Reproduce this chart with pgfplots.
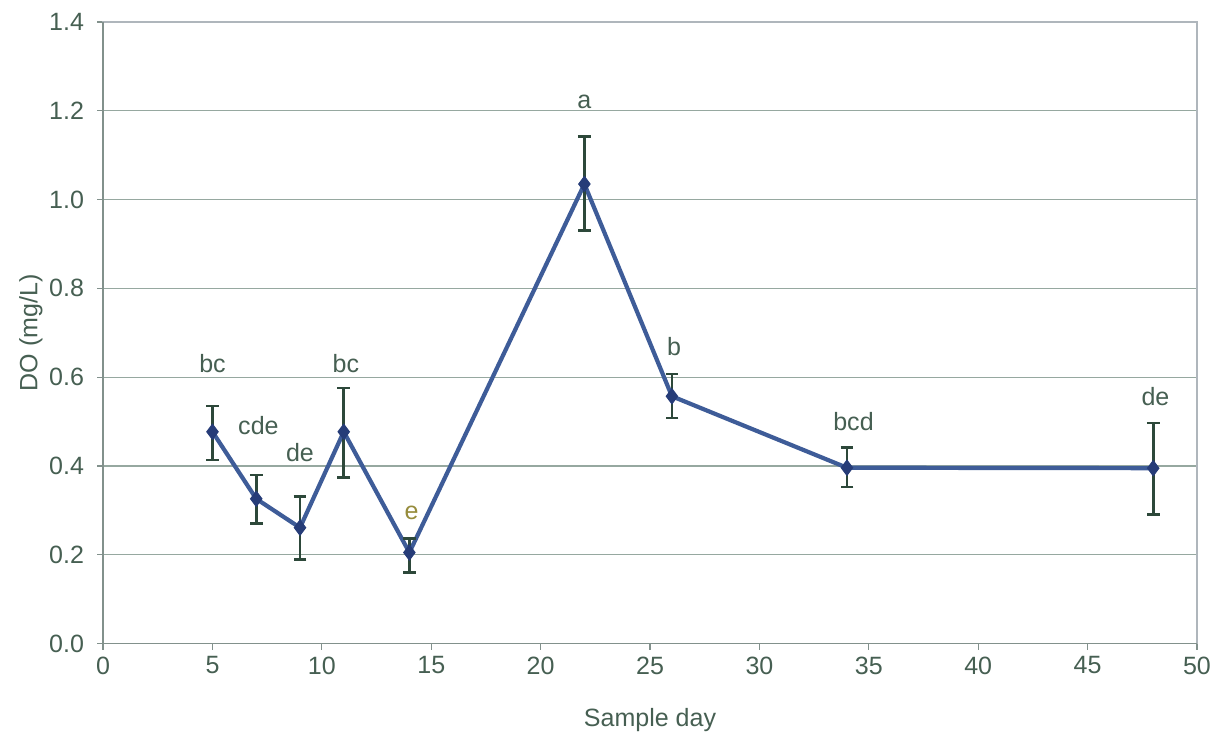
\documentclass[border=0pt]{standalone}
\usepackage{pgfplots}
\pgfplotsset{compat=1.18}
\usepackage{fontspec}
\setmainfont{Liberation Sans}
\definecolor{txtc}{RGB}{70,95,82}
\definecolor{gridc}{RGB}{150,168,160}
\definecolor{boxc}{RGB}{175,182,188}
\definecolor{axc}{RGB}{130,145,140}
\definecolor{linec}{RGB}{62,92,152}
\definecolor{markc}{RGB}{38,60,120}
\definecolor{errc}{RGB}{45,72,58}
\begin{document}
\begin{tikzpicture}
\begin{axis}[
  scale only axis,
  width=546.5pt, height=310.5pt,
  xmin=0, xmax=50, ymin=0, ymax=1.4,
  xtick={0,5,...,50},
  ytick={0,0.2,...,1.4},
  /pgf/number format/assume math mode=true,
  tick label style={font=\fontsize{12.5}{14}\selectfont, text=txtc},
  yticklabel style={xshift=-3pt, /pgf/number format/fixed, /pgf/number format/fixed zerofill, /pgf/number format/precision=1},
  xticklabel style={yshift=0pt},
  label style={font=\fontsize{12.5}{14}\selectfont, text=txtc},
  xlabel={Sample day},
  ylabel={DO (mg/L)},
  xlabel style={yshift=-10pt},
  ylabel style={yshift=-3.5pt},
  axis line style={boxc, line width=0.6pt},
  tick align=outside,
  major tick length=3pt,
  tick style={axc, line width=0.6pt},
  ymajorgrids,
  grid style={gridc, line width=0.6pt},
  xtick pos=bottom, ytick pos=left,
  clip=false,
  axis on top=false,
]
\draw[axc, line width=0.8pt] (axis cs:0,1.4) -- (axis cs:0,0) -- (axis cs:50,0);
\addplot[
  color=linec, line width=2.1pt,
  mark=diamond*, mark size=3.8pt,
  mark options={fill=markc, draw=markc, line width=0.5pt},
  error bars/.cd, y dir=both, y explicit,
  error bar style={errc, line width=1.3pt},
  error mark options={rotate=90, mark size=3.2pt, errc, line width=1.3pt},
] table[x=x, y=y, y error plus=ep, y error minus=em] {
x  y      ep     em
5  0.477  0.058  0.064
7  0.326  0.054  0.056
9  0.261  0.070  0.072
11 0.477  0.099  0.103
14 0.205  0.032  0.045
22 1.035  0.107  0.105
26 0.557  0.050  0.049
34 0.396  0.045  0.043
48 0.395  0.102  0.105
};
\begin{scope}[every node/.style={font=\fontsize{12.5}{14}\selectfont, text=txtc}]
\node at (axis cs:5,0.631) {bc};
\node at (axis cs:7.1,0.492) {cde};
\node at (axis cs:9,0.431) {de};
\node at (axis cs:11.1,0.631) {bc};
\node[text={rgb,255:red,150;green,140;blue,60}] at (axis cs:14.1,0.294) {e};
\node at (axis cs:22,1.22) {a};
\node at (axis cs:26.1,0.67) {b};
\node at (axis cs:34.3,0.499) {bcd};
\node at (axis cs:48.1,0.557) {de};
\end{scope}
\end{axis}
\path ([shift={(-51.5pt,-51pt)}]current axis.south west) rectangle ([shift={(13.5pt,11pt)}]current axis.north east);
\end{tikzpicture}
\end{document}
